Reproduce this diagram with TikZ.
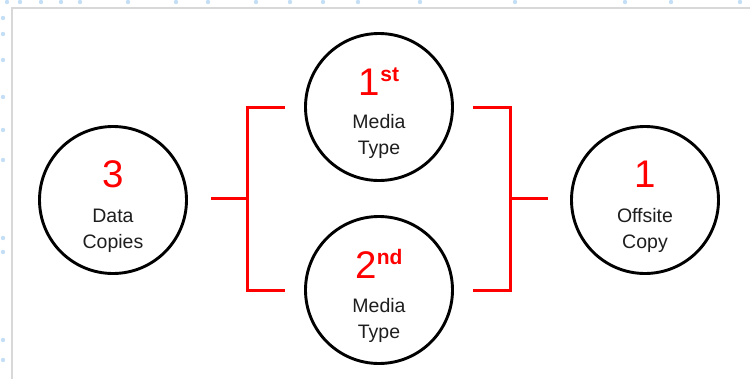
\documentclass[tikz,border=0pt]{standalone}
\usepackage{fontspec}
\setmainfont{Liberation Sans}
\usetikzlibrary{calc}
\definecolor{brred}{HTML}{FF0000}
\definecolor{txtgray}{HTML}{1E1E1E}
\definecolor{framegray}{HTML}{D8D8D8}
\definecolor{dotblue}{HTML}{C4DEF6}
\tikzset{
  circ/.style={circle, draw=black, line width=2.9pt, minimum size=147pt, inner sep=0pt},
  redline/.style={draw=brred, line width=3pt, line join=miter},
  numtxt/.style={anchor=base, inner sep=0pt, text=brred, font=\fontsize{38.5}{38.5}\selectfont},
  labtxt/.style={anchor=base, inner sep=0pt, text=txtgray, font=\fontsize{19.5}{19.5}\selectfont},
  bgdot/.style={fill=dotblue, draw=none}
}
\newcommand{\supx}[1]{\raisebox{14pt}{\fontsize{21}{21}\selectfont\bfseries #1}}
\begin{document}
\begin{tikzpicture}[x=1pt,y=-1pt]
\useasboundingbox (0,0) rectangle (750,378);
\fill[white] (0,0) rectangle (750,378);
% background dots outside the frame
\foreach \xx in {7,20,41,61,80,128,176,208,256,290,323,358,420,515,625,671,740}
  \fill[bgdot] (\xx,2) circle (2.2pt);
\foreach \yy in {18,34,60,97,130,160,238,252,340,360}
  \fill[bgdot] (3,\yy) circle (2.2pt);
% frame
\draw[framegray, line width=2pt] (11.5,380) -- (11.5,7.5) -- (752,7.5);
% circles
\node[circ] (dc) at (113,200) {};
\node[circ] (m1) at (379,107) {};
\node[circ] (m2) at (379,290) {};
\node[circ] (oc) at (645,200) {};
% junction points
\coordinate (lj) at (247,198);
\coordinate (rj) at (510,198);
% texts
\node[numtxt] (dcn) at ([yshift=13pt]dc.center) {3};
\node[labtxt] (dcl1) at ([yshift=-22pt]dc.center) {Data};
\node[labtxt] (dcl2) at ([yshift=-48pt]dc.center) {Copies};
\node[numtxt] (m1n) at ([yshift=12pt]m1.center) {1\supx{st}};
\node[labtxt] (m1l1) at ([yshift=-21pt]m1.center) {Media};
\node[labtxt] (m1l2) at ([yshift=-47pt]m1.center) {Type};
\node[numtxt] (m2n) at ([yshift=12pt]m2.center) {2\supx{nd}};
\node[labtxt] (m2l1) at ([yshift=-22pt]m2.center) {Media};
\node[labtxt] (m2l2) at ([yshift=-48pt]m2.center) {Type};
\node[numtxt] (ocn) at ([yshift=13pt]oc.center) {1};
\node[labtxt] (ocl1) at ([yshift=-22pt]oc.center) {Offsite};
\node[labtxt] (ocl2) at ([yshift=-48pt]oc.center) {Copy};
% left bracket
\draw[redline, shorten <=23pt] (dc.east |- lj) -- (lj);
\draw[redline, shorten <=19pt, shorten >=19pt] (m1.west) -- (lj |- m1.west) -- (lj |- m2.west) -- (m2.west);
% right bracket
\draw[redline, shorten <=19pt, shorten >=19pt] (m1.east) -- (rj |- m1.east) -- (rj |- m2.east) -- (m2.east);
\draw[redline, shorten >=22pt] (rj) -- (oc.west |- rj);
\end{tikzpicture}
\end{document}
